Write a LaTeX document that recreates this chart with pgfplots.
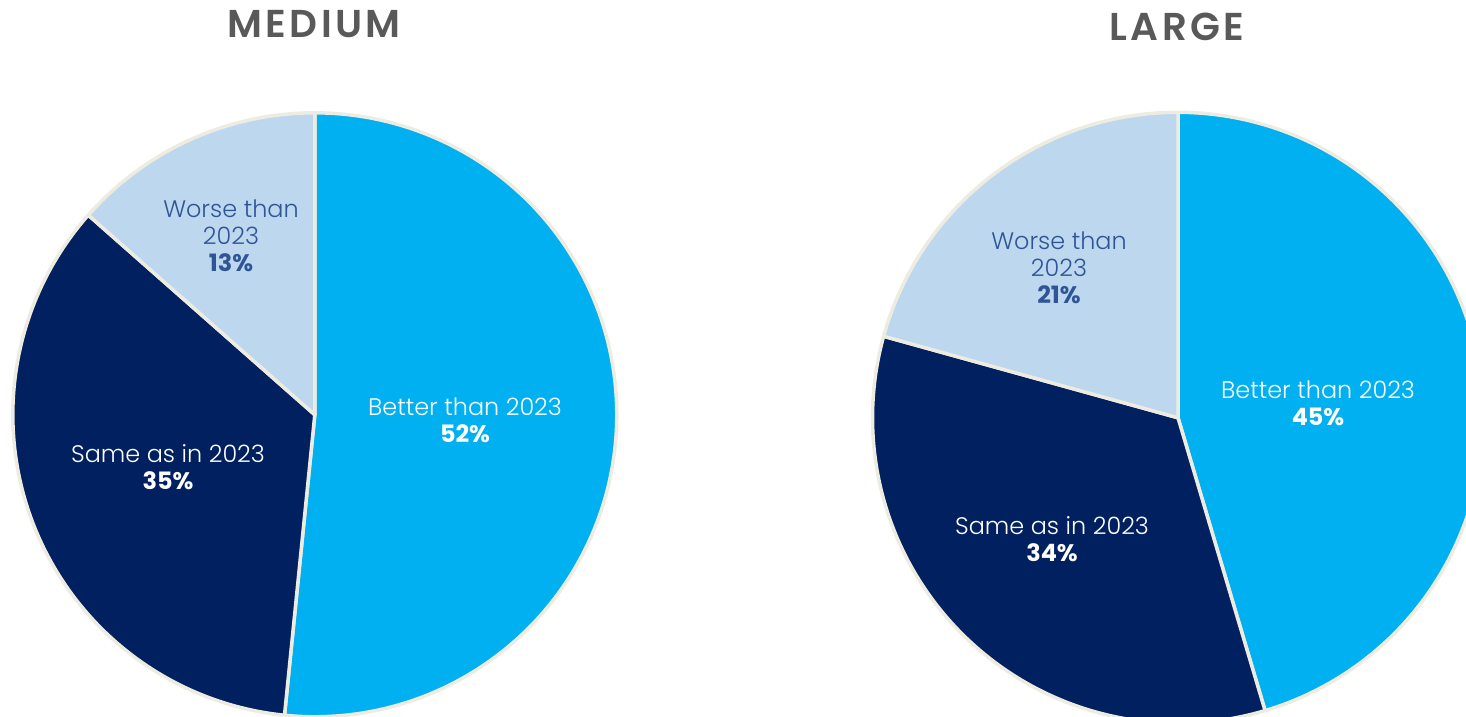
\documentclass[border=0pt]{standalone}
\usepackage{pgfplots}
\pgfplotsset{compat=1.18}
\usepackage{fontspec}
\setmainfont{Poppins}
\newfontfamily\lightfont{Poppins Light}
\newfontfamily\titlefont{Poppins SemiBold}[LetterSpace=9]
\definecolor{cBetter}{HTML}{00B0F0}
\definecolor{cSame}{HTML}{002060}
\definecolor{cWorse}{HTML}{BDD7EE}
\definecolor{cWorseText}{HTML}{2F5597}
\definecolor{cBorder}{HTML}{EEECE1}
\definecolor{cTitle}{HTML}{595959}
% data (percent): Better, Same, Worse
\def\mB{51.6}\def\mS{34.9}\def\mW{13.5}
\def\lB{45.4}\def\lS{33.9}\def\lW{20.7}
\pgfmathsetmacro\mAB{90-3.6*\mB}
\pgfmathsetmacro\mAS{\mAB-3.6*\mS}
\pgfmathsetmacro\mAW{\mAS-3.6*\mW}
\pgfmathsetmacro\lAB{90-3.6*\lB}
\pgfmathsetmacro\lAS{\lAB-3.6*\lS}
\pgfmathsetmacro\lAW{\lAS-3.6*\lW}
\newcommand\slice[6]{%
  \addplot[fill=#6, draw=cBorder, line width=3.5bp, line join=round,
    domain=#4:#5, samples=150, variable=\t]
    ({#1+#3*cos(\t)},{#2+#3*sin(\t)}) -- (axis cs:#1,#2) -- cycle;}
\begin{document}
\begin{tikzpicture}
\begin{axis}[x=1bp, y=1bp, scale only axis, xmin=0, xmax=1466, ymin=0, ymax=717,
  hide axis, clip=true]
\addplot[draw=none] coordinates {(0,0) (1466,717)};
% MEDIUM
\slice{314.8}{302.2}{302}{90}{\mAB}{cBetter}
\slice{314.8}{302.2}{302}{\mAB}{\mAS}{cSame}
\slice{314.8}{302.2}{302}{\mAS}{\mAW}{cWorse}
% LARGE
\slice{1178}{299.2}{305.5}{90}{\lAB}{cBetter}
\slice{1178}{299.2}{305.5}{\lAB}{\lAS}{cSame}
\slice{1178}{299.2}{305.5}{\lAS}{\lAW}{cWorse}
\end{axis}
\begin{scope}[every node/.style={align=center, font=\fontsize{24}{27}\selectfont}]
\node[text=cTitle, font=\fontsize{39}{44}\selectfont\titlefont] at (314bp,693bp) {MEDIUM};
\node[text=cTitle, font=\fontsize{39}{44}\selectfont\titlefont] at (1177bp,690bp) {LARGE};
\node[text=cWorseText] at (231bp,481bp) {\lightfont Worse than\\\lightfont 2023\\\bfseries 13\%};
\node[text=white] at (465bp,297bp) {\lightfont Better than 2023\\\bfseries 52\%};
\node[text=white] at (168bp,250bp) {\lightfont Same as in 2023\\\bfseries 35\%};
\node[text=cWorseText] at (1059bp,449bp) {\lightfont Worse than\\\lightfont 2023\\\bfseries 21\%};
\node[text=white] at (1318bp,314bp) {\lightfont Better than 2023\\\bfseries 45\%};
\node[text=white] at (1052bp,178bp) {\lightfont Same as in 2023\\\bfseries 34\%};
\end{scope}
\end{tikzpicture}
\end{document}
